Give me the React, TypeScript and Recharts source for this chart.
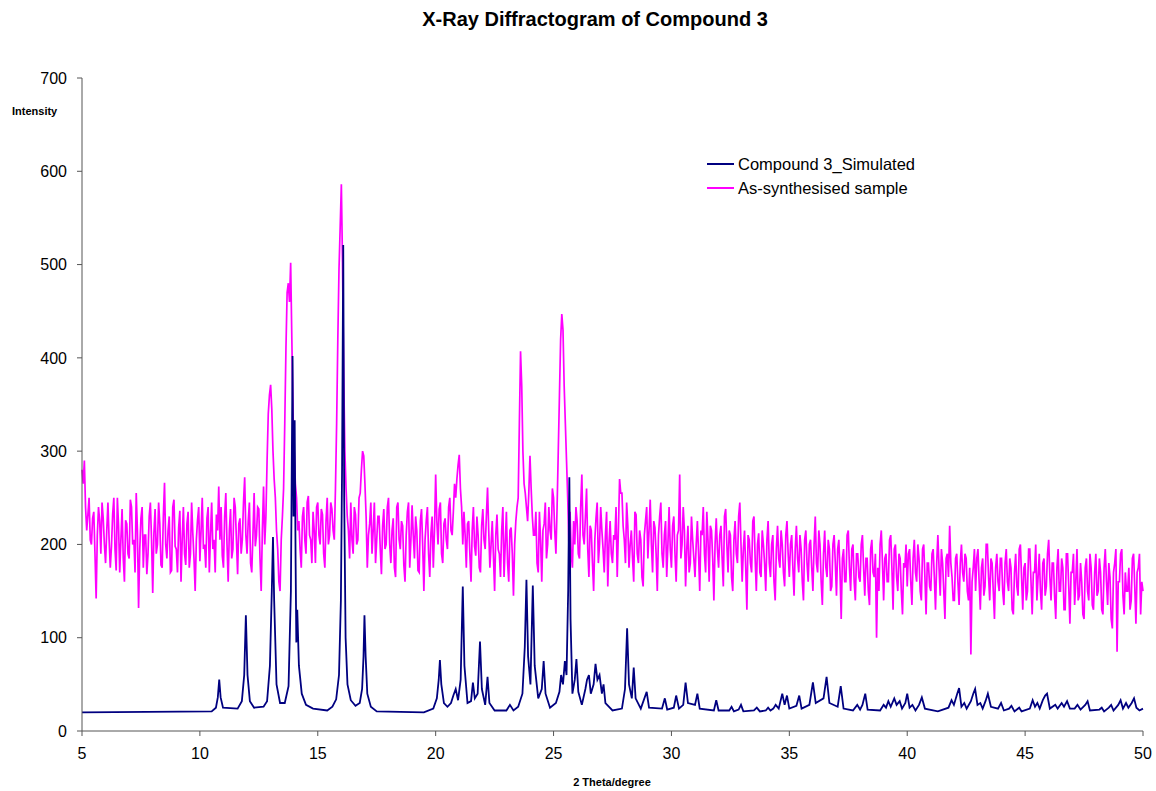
import { LineChart, Line, XAxis, YAxis } from 'recharts';

// scan settings of the measured pattern
const SCAN_START = 5;
const SCAN_STEP = 0.05;

const angleTicks = [5, 10, 15, 20, 25, 30, 35, 40, 45, 50];
const intensityTicks = [0, 100, 200, 300, 400, 500, 600, 700];

// As-synthesised sample, one row per degree (x.00 ... x.95)
const sampleIntensity = [
  280, 265, 290, 240, 215, 232, 250, 205, 200, 228, 235, 190, 142, 210, 240, 225, 190, 245, 228, 200,
  180, 215, 245, 205, 175, 198, 232, 250, 195, 172, 250, 220, 170, 205, 238, 185, 160, 226, 222, 190,
  185, 248, 240, 200, 205, 170, 255, 215, 132, 195, 228, 240, 175, 210, 210, 168, 190, 230, 245, 205,
  148, 212, 238, 190, 200, 245, 222, 178, 175, 230, 266, 200, 185, 215, 230, 170, 172, 240, 248, 198,
  195, 170, 218, 236, 160, 205, 240, 190, 178, 222, 235, 175, 190, 245, 212, 185, 150, 205, 226, 240,
  182, 215, 250, 195, 200, 175, 228, 240, 170, 210, 245, 195, 205, 170, 232, 215, 262, 205, 240, 188,
  175, 230, 255, 200, 160, 215, 238, 185, 195, 250, 240, 205, 168, 222, 228, 190, 205, 245, 272, 210,
  190, 225, 245, 180, 170, 210, 255, 198, 210, 240, 238, 185, 150, 215, 262, 200, 230, 290, 340, 360,
  371, 345, 300, 270, 250, 215, 195, 160, 150, 205, 230, 260, 330, 410, 470, 480, 460, 502, 420, 340,
  300, 265, 250, 215, 225, 195, 175, 230, 240, 205, 190, 245, 252, 210, 205, 180, 235, 215, 180, 240,
  245, 210, 200, 238, 232, 190, 175, 225, 250, 200, 210, 245, 238, 215, 205, 260, 330, 420, 495, 540,
  586, 500, 380, 300, 260, 230, 215, 185, 245, 205, 190, 240, 232, 200, 205, 250, 255, 280, 300, 295,
  265, 230, 175, 210, 222, 245, 190, 215, 245, 180, 205, 230, 230, 195, 168, 220, 238, 195, 200, 240,
  250, 200, 180, 215, 228, 175, 165, 240, 245, 205, 195, 225, 220, 178, 160, 210, 235, 245, 175, 205,
  242, 210, 185, 230, 215, 172, 170, 225, 238, 198, 150, 205, 225, 240, 190, 165, 212, 230, 175, 215,
  275, 225, 200, 238, 245, 190, 180, 222, 228, 205, 195, 240, 250, 215, 210, 235, 265, 250, 270, 285,
  296, 260, 240, 200, 235, 210, 175, 222, 225, 190, 160, 215, 240, 198, 188, 230, 210, 175, 170, 220,
  238, 205, 195, 230, 261, 215, 175, 200, 225, 188, 150, 210, 232, 195, 190, 165, 215, 240, 165, 200,
  235, 180, 160, 215, 218, 190, 145, 200, 225, 240, 250, 330, 407, 370, 300, 265, 255, 240, 225, 255,
  295, 260, 230, 210, 210, 235, 180, 170, 235, 205, 160, 215, 222, 245, 185, 200, 240, 215, 205, 260,
  250, 215, 190, 240, 300, 360, 420, 447, 430, 370, 330, 290, 250, 200, 235, 190, 175, 225, 200, 240,
  225, 190, 185, 240, 275, 210, 200, 230, 260, 195, 165, 220, 215, 180, 150, 205, 228, 245, 180, 200,
  240, 215, 195, 170, 210, 235, 155, 200, 225, 190, 180, 210, 205, 240, 165, 215, 270, 255, 255, 220,
  205, 180, 245, 220, 175, 200, 215, 185, 160, 235, 232, 190, 180, 215, 205, 165, 155, 210, 225, 240,
  185, 215, 248, 200, 170, 225, 218, 190, 150, 210, 230, 245, 190, 175, 210, 225, 165, 200, 240, 195,
  175, 220, 230, 190, 160, 210, 215, 275, 185, 200, 240, 215, 155, 195, 220, 170, 180, 230, 205, 185,
  165, 200, 225, 190, 150, 215, 210, 240, 190, 170, 235, 205, 160, 220, 215, 185, 140, 200, 228, 195,
  175, 210, 220, 185, 155, 230, 238, 200, 170, 215, 210, 165, 150, 205, 225, 190, 180, 230, 245, 200,
  160, 195, 215, 175, 130, 210, 205, 180, 170, 225, 230, 185, 150, 200, 212, 170, 165, 215, 200, 180,
  150, 205, 225, 180, 165, 200, 210, 160, 140, 195, 220, 185, 175, 215, 200, 170, 155, 210, 225, 190,
  165, 200, 210, 175, 145, 195, 220, 185, 170, 210, 195, 160, 140, 205, 215, 180, 160, 200, 205, 175,
  150, 200, 230, 180, 170, 215, 200, 160, 135, 190, 215, 175, 165, 205, 195, 150, 155, 200, 210, 180,
  145, 195, 205, 170, 120, 185, 195, 160, 160, 210, 215, 175, 150, 195, 200, 160, 140, 190, 190, 165,
  160, 200, 210, 175, 145, 185, 185, 150, 135, 195, 205, 170, 165, 190, 100, 175, 150, 200, 215, 180,
  140, 185, 190, 160, 160, 205, 210, 175, 130, 195, 200, 165, 150, 190, 185, 150, 125, 180, 175, 200,
  155, 190, 195, 160, 135, 185, 205, 170, 160, 200, 185, 150, 140, 195, 200, 165, 125, 180, 180, 155,
  150, 190, 195, 165, 130, 180, 210, 175, 145, 195, 180, 150, 120, 185, 190, 165, 220, 180, 165, 140,
  140, 185, 190, 160, 135, 180, 200, 170, 160, 190, 185, 150, 140, 175, 82, 160, 175, 195, 150, 185,
  195, 160, 130, 175, 185, 145, 155, 200, 200, 165, 140, 185, 180, 150, 120, 175, 190, 160, 150, 185,
  185, 150, 135, 180, 195, 160, 150, 185, 175, 130, 125, 170, 190, 155, 145, 195, 200, 165, 130, 175,
  180, 140, 150, 195, 195, 160, 125, 170, 170, 200, 140, 165, 190, 150, 130, 180, 185, 145, 155, 190,
  205, 165, 140, 180, 180, 145, 120, 175, 195, 150, 150, 185, 175, 130, 130, 190, 190, 155, 115, 170,
  170, 190, 135, 160, 195, 140, 145, 180, 160, 125, 120, 175, 185, 150, 140, 190, 175, 135, 130, 170,
  190, 145, 150, 185, 170, 130, 125, 175, 195, 160, 135, 180, 165, 120, 110, 170, 180, 195, 85, 160,
  160, 190, 195, 145, 125, 170, 150, 150, 175, 130, 140, 185, 190, 155, 115, 170, 175, 190, 125, 160,
  150,
];

// Compound 3 simulated pattern: [2theta, intensity]
const simulatedPoints: [number, number][] = [
  [5, 20], [10.5, 21], [10.68, 25], [10.76, 36], [10.82, 55], [10.88, 36], [10.98, 25],
  [11.6, 24], [11.78, 32], [11.88, 60], [11.95, 124], [12.02, 60], [12.12, 32], [12.3, 25],
  [12.7, 26], [12.85, 32], [12.97, 70], [13.05, 150], [13.1, 208], [13.15, 140], [13.25, 50],
  [13.4, 30], [13.6, 30], [13.76, 48], [13.86, 150], [13.93, 402], [13.97, 230], [14.02, 333],
  [14.06, 180], [14.09, 95], [14.13, 130], [14.2, 70], [14.32, 40], [14.5, 28], [14.8, 24],
  [15.4, 22], [15.62, 26], [15.78, 34], [15.9, 60], [15.98, 140], [16.03, 280], [16.08, 521],
  [16.12, 250], [16.18, 100], [16.26, 50], [16.4, 33], [16.6, 27], [16.78, 30], [16.88, 45],
  [16.94, 80], [16.98, 124], [17.03, 80], [17.1, 40], [17.25, 26], [17.5, 21], [19.5, 20],
  [19.9, 24], [20.05, 35], [20.13, 55], [20.18, 76], [20.24, 50], [20.35, 30], [20.5, 26],
  [20.65, 30], [20.75, 38], [20.85, 45], [20.95, 33], [21.06, 55], [21.15, 155], [21.22, 70],
  [21.35, 30], [21.5, 32], [21.58, 52], [21.66, 35], [21.78, 40], [21.88, 96], [21.96, 45],
  [22.1, 28], [22.2, 58], [22.28, 30], [22.5, 22], [23.0, 22], [23.15, 28], [23.3, 22],
  [23.5, 26], [23.68, 40], [23.78, 90], [23.85, 162], [23.92, 80], [24.02, 50], [24.12, 156],
  [24.2, 70], [24.35, 35], [24.5, 45], [24.58, 75], [24.66, 40], [24.85, 25], [25.1, 30],
  [25.25, 42], [25.32, 60], [25.4, 50], [25.48, 75], [25.55, 60], [25.62, 150], [25.67, 272],
  [25.72, 120], [25.8, 40], [25.9, 55], [25.97, 77], [26.05, 42], [26.2, 28], [26.35, 45],
  [26.42, 55], [26.5, 60], [26.58, 40], [26.7, 50], [26.78, 72], [26.86, 55], [26.95, 60],
  [27.05, 40], [27.12, 50], [27.2, 30], [27.5, 22], [27.9, 24], [28.03, 45], [28.12, 110],
  [28.2, 50], [28.32, 35], [28.4, 68], [28.48, 35], [28.7, 24], [28.95, 42], [29.05, 25],
  [29.6, 24], [29.72, 35], [29.82, 23], [30.1, 25], [30.2, 38], [30.32, 24], [30.5, 28],
  [30.6, 52], [30.7, 30], [31.0, 28], [31.1, 40], [31.2, 24], [31.8, 22], [31.9, 33],
  [32.0, 22], [32.45, 22], [32.55, 26], [32.65, 21], [32.85, 23], [32.95, 28], [33.05, 21],
  [33.5, 22], [33.62, 25], [33.75, 21], [34.0, 22], [34.1, 25], [34.2, 22], [34.32, 24],
  [34.42, 28], [34.55, 24], [34.7, 40], [34.8, 28], [34.9, 38], [35.0, 24], [35.3, 27],
  [35.42, 38], [35.52, 24], [35.85, 28], [36.0, 52], [36.12, 30], [36.45, 35], [36.58, 58],
  [36.7, 30], [37.05, 26], [37.18, 48], [37.3, 24], [37.7, 22], [37.88, 28], [38.0, 23],
  [38.1, 28], [38.22, 40], [38.32, 23], [38.85, 22], [39.0, 28], [39.1, 25], [39.2, 32],
  [39.3, 26], [39.45, 35], [39.55, 28], [39.68, 32], [39.78, 24], [39.92, 30], [40.0, 40],
  [40.1, 25], [40.22, 28], [40.35, 22], [40.5, 28], [40.62, 36], [40.75, 24], [41.3, 21],
  [41.75, 25], [41.88, 33], [41.98, 28], [42.12, 40], [42.2, 46], [42.3, 26], [42.42, 30],
  [42.52, 24], [42.7, 32], [42.8, 40], [42.88, 45], [42.98, 28], [43.1, 30], [43.2, 24],
  [43.32, 32], [43.42, 40], [43.55, 26], [43.85, 24], [43.98, 30], [44.1, 22], [44.32, 24],
  [44.42, 27], [44.55, 21], [44.65, 23], [44.75, 25], [44.85, 21], [45.2, 24], [45.32, 33],
  [45.42, 26], [45.52, 30], [45.62, 24], [45.75, 33], [45.85, 38], [45.93, 40], [46.05, 24],
  [46.28, 28], [46.38, 24], [46.55, 30], [46.65, 26], [46.78, 32], [46.9, 24], [47.1, 24],
  [47.22, 28], [47.35, 23], [47.55, 28], [47.65, 32], [47.75, 22], [48.15, 23], [48.25, 25],
  [48.35, 21], [48.55, 25], [48.65, 28], [48.75, 22], [48.95, 28], [49.05, 33], [49.15, 24],
  [49.28, 30], [49.38, 25], [49.52, 30], [49.62, 35], [49.72, 25], [49.85, 22], [50, 24],
];

const sampleData = sampleIntensity.map((v, i) => ({
  angle: +(SCAN_START + i * SCAN_STEP).toFixed(2),
  intensity: v,
}));
const simulatedData = simulatedPoints.map(([a, v]) => ({ angle: a, intensity: v }));

const FONT = '"Liberation Sans", Arial, sans-serif';
const NAVY = '#000080';
const MAGENTA = '#ff00ff';

const legendItems = [
  { name: 'Compound 3_Simulated', color: NAVY },
  { name: 'As-synthesised sample', color: MAGENTA },
];

export default function App() {
  return (
    <div style={{ position: 'absolute', left: 0, top: 0, width: 1156, height: 791, background: '#fff', fontFamily: FONT }}>
      <div style={{ position: 'absolute', left: 0, width: 1190, top: 8, textAlign: 'center', fontSize: 20, fontWeight: 'bold' }}>
        X-Ray Diffractogram of Compound 3
      </div>
      <div style={{ position: 'absolute', left: 12, top: 105, fontSize: 11, fontWeight: 'bold' }}>Intensity</div>
      <div style={{ position: 'absolute', left: 0, width: 1224, top: 776, textAlign: 'center', fontSize: 11, fontWeight: 'bold' }}>
        2 Theta/degree
      </div>

      {/* legend */}
      <div style={{ position: 'absolute', left: 707, top: 152 }}>
        {legendItems.map(item => (
          <div key={item.name} style={{ display: 'flex', alignItems: 'center', height: 24, fontSize: 16.5 }}>
            <span style={{ display: 'inline-block', width: 27, height: 2, background: item.color, marginRight: 4 }} />
            <span>{item.name}</span>
          </div>
        ))}
      </div>

      <LineChart width={1156} height={791} margin={{ top: 78, right: 13, left: 32, bottom: 30 }}>
        <XAxis
          dataKey="angle"
          type="number"
          domain={[5, 50]}
          ticks={angleTicks}
          allowDuplicatedCategory={false}
          stroke="#555"
          tick={{ fill: '#000', fontSize: 16, fontFamily: FONT }}
          tickSize={5}
          tickMargin={12}
          height={30}
        />
        <YAxis
          type="number"
          domain={[0, 700]}
          ticks={intensityTicks}
          stroke="#555"
          tick={{ fill: '#000', fontSize: 16, fontFamily: FONT }}
          tickSize={5}
          tickMargin={10}
          width={50}
        />
        <Line
          data={sampleData}
          dataKey="intensity"
          name="As-synthesised sample"
          type="linear"
          stroke={MAGENTA}
          strokeWidth={1.7}
          dot={false}
          isAnimationActive={false}
        />
        <Line
          data={simulatedData}
          dataKey="intensity"
          name="Compound 3_Simulated"
          type="linear"
          stroke={NAVY}
          strokeWidth={1.8}
          dot={false}
          isAnimationActive={false}
        />
      </LineChart>
    </div>
  );
}
